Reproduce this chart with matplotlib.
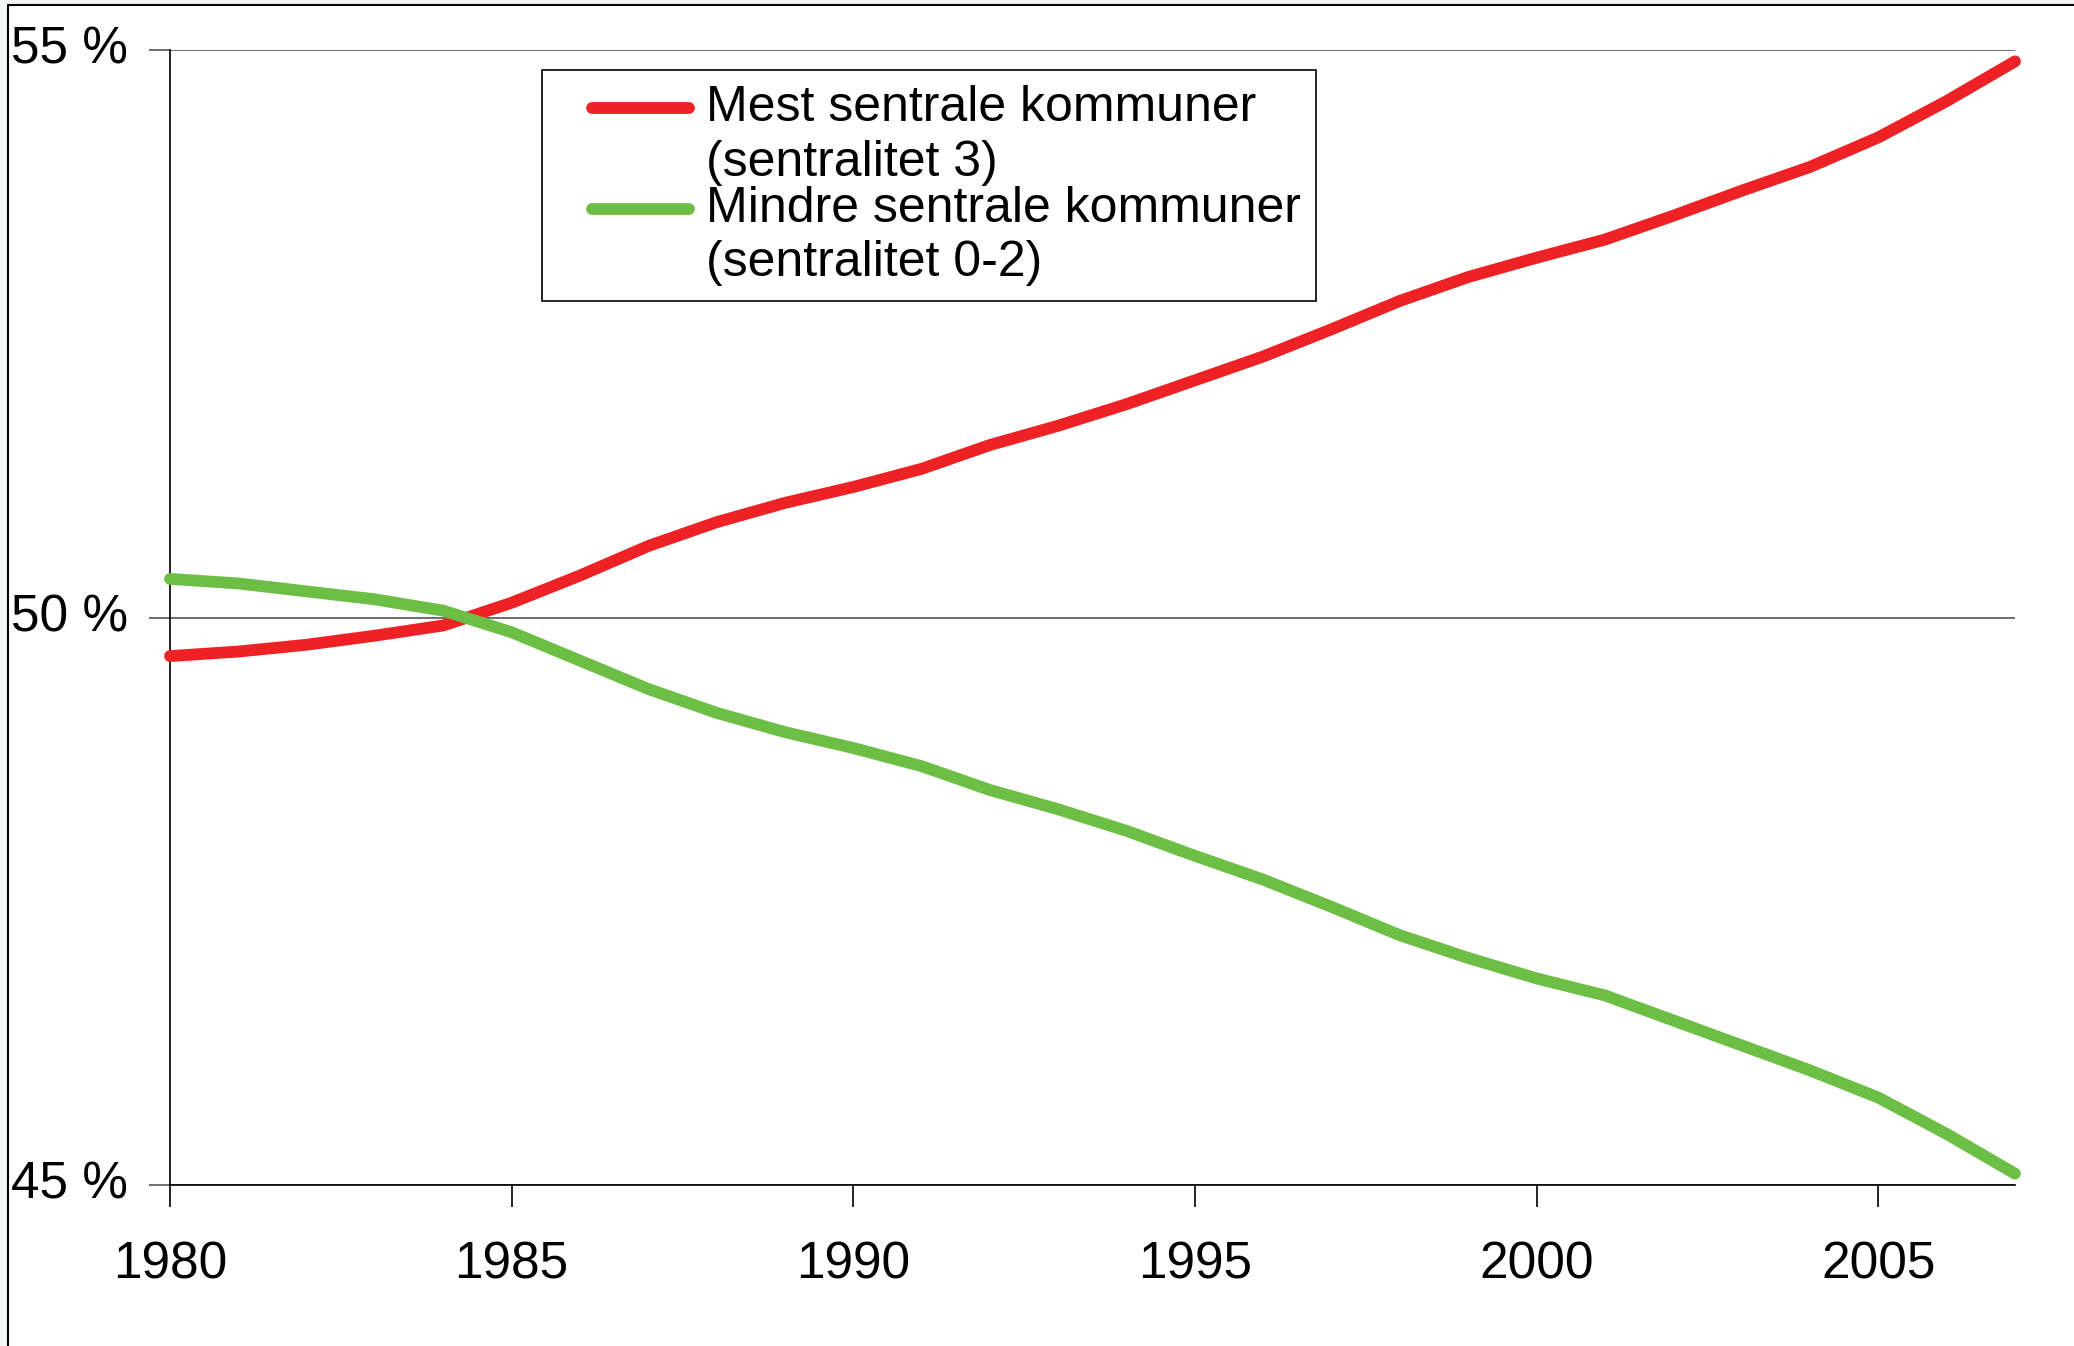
import matplotlib
matplotlib.use("Agg")
import matplotlib.pyplot as plt
from matplotlib.patches import Rectangle

years = list(range(1980, 2008))
mest_sentrale = [49.66, 49.70, 49.76, 49.84, 49.93, 50.13, 50.37, 50.63, 50.84, 51.01,
                 51.15, 51.31, 51.52, 51.69, 51.88, 52.09, 52.30, 52.54, 52.79, 53.00,
                 53.17, 53.33, 53.54, 53.76, 53.97, 54.23, 54.55, 54.90]
mindre_sentrale = [50.34, 50.30, 50.23, 50.16, 50.06, 49.87, 49.62, 49.37, 49.16, 48.99,
                   48.85, 48.69, 48.48, 48.31, 48.12, 47.90, 47.69, 47.45, 47.20, 47.00,
                   46.82, 46.67, 46.45, 46.23, 46.01, 45.77, 45.45, 45.10]
labels = ["Mest sentrale kommuner\n(sentralitet 3)",
          "Mindre sentrale kommuner\n(sentralitet 0-2)"]
y_ticks = [45, 50, 55]
y_ticklabels = ["45 %", "50 %", "55 %"]
x_ticks = [1980, 1985, 1990, 1995, 2000, 2005]

plt.rcParams['font.family'] = ['Liberation Sans', 'DejaVu Sans']

fig = plt.figure(figsize=(20.74, 13.46), dpi=100, facecolor='#f4f6f6')
# white sheet with a black edge behind the chart
fig.patches.append(Rectangle((8 / 2074, -0.1), 1.2, 1.1 - 5 / 1346, transform=fig.transFigure,
                             facecolor='white', edgecolor='black', linewidth=1.5, zorder=-1))

ax = fig.add_axes([170 / 2074, 1 - 1185 / 1346, 1845 / 2074, 1135 / 1346])
ax.patch.set_alpha(0)

ax.plot(years, mest_sentrale, color='#ee2224', linewidth=8.5, solid_capstyle='round',
        label=labels[0], zorder=3, clip_on=False)
ax.plot(years, mindre_sentrale, color='#6dbe45', linewidth=8.5, solid_capstyle='round',
        label=labels[1], zorder=3, clip_on=False)

ax.set_xlim(1980, 2007)
ax.set_ylim(45, 55)
ax.set_xticks(x_ticks)
ax.set_yticks(y_ticks)
ax.set_yticklabels(y_ticklabels)
ax.tick_params(axis='x', length=16, width=1.2, pad=24, labelsize=37, direction='out')
ax.tick_params(axis='y', length=15, width=1.2, pad=15, labelsize=37, direction='out',
               color='#555555')
for lab in ax.get_yticklabels():
    lab.set_va('center')
for s in ['top', 'right']:
    ax.spines[s].set_visible(False)
ax.spines['left'].set_linewidth(1.2)
ax.spines['bottom'].set_linewidth(1.2)
ax.grid(axis='y', color='#555555', linewidth=1.2)
ax.set_axisbelow(True)

fs = 36
leg = ax.legend(loc='upper left', bbox_to_anchor=(0.2016, 0.9824), borderaxespad=0,
                fancybox=False, framealpha=1, edgecolor='black', borderpad=0.3,
                handlelength=2.78, handletextpad=0.2, labelspacing=0.0,
                prop={'family': 'Liberation Sans', 'size': fs})
leg.get_frame().set_linewidth(1.2)
for t in leg.get_texts():
    t.set_linespacing(1.24)
# short handle sitting on the first text line of each entry
for h in leg.get_lines():
    h.set_solid_capstyle('round')
    y0 = h.get_ydata()[0]
    h.set_xdata([25, 95])
    h.set_ydata([y0 + 20, y0 + 20])

fig.savefig("out.png", dpi=100, facecolor=fig.get_facecolor())
